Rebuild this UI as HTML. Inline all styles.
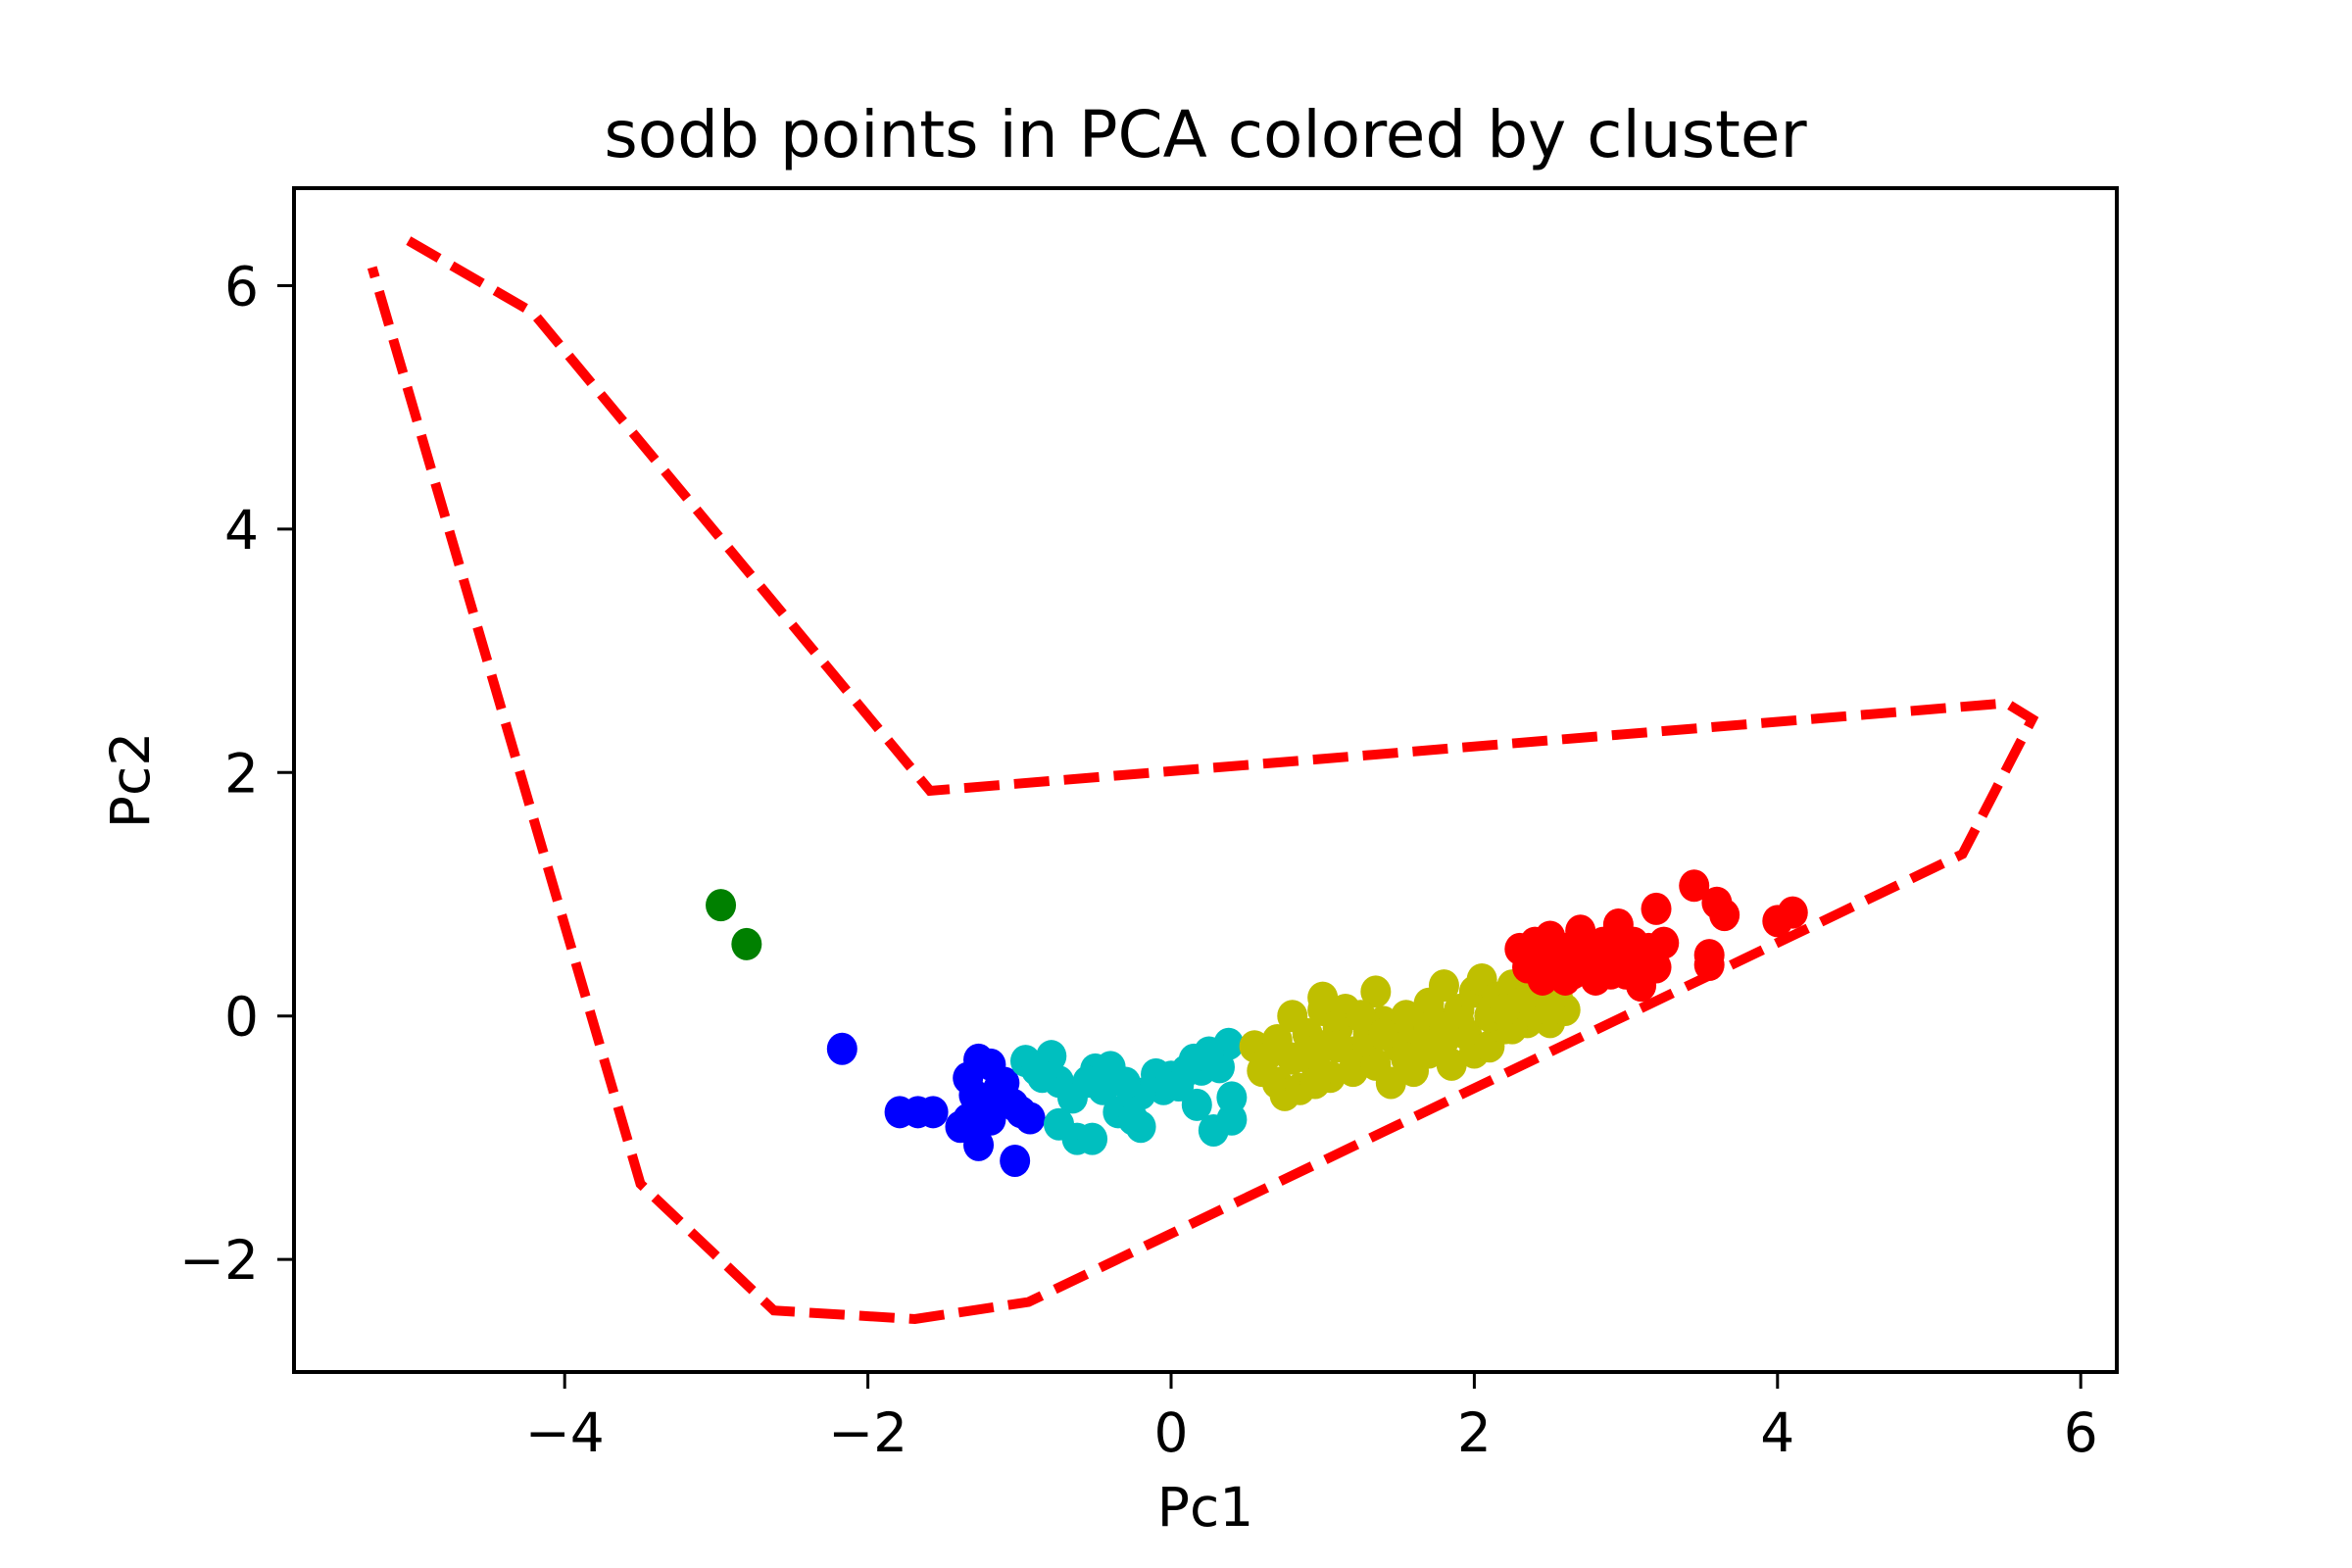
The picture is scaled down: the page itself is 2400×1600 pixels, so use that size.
<!DOCTYPE html>
<html><head><meta charset="utf-8"><style>
html,body{margin:0;padding:0;background:#fff;}
svg{display:block;font-family:"DejaVu Sans","Liberation Sans",sans-serif;}
</style></head><body>
<svg id="chart" width="2400" height="1600" viewBox="0 0 2400 1600" xmlns="http://www.w3.org/2000/svg">
<rect width="2400" height="1600" fill="#fff"/>
<text x="1230" y="160" font-size="66" text-anchor="middle">sodb points in PCA colored by cluster</text>
<text x="1230" y="1557" font-size="55" text-anchor="middle">Pc1</text>
<text transform="translate(152,796) rotate(-90)" font-size="55" text-anchor="middle">Pc2</text>
<g id="marks"></g>
<g id="axes"></g>
</svg>
<script>
const xTicks=[-4,-2,0,2,4,6];
const yTicks=[-2,0,2,4,6];
const hullX=[-5.03,-4.21,-1.59,5.51,5.68,5.22,-0.94,-1.69,-2.62,-3.50,-5.27];
const hullY=[6.37,5.78,1.85,2.57,2.44,1.33,-2.35,-2.49,-2.42,-1.38,6.15];
const greenX=[-2.97,-2.80];
const greenY=[0.91,0.59];
const blueX=[-2.17,-1.79,-1.67,-1.57,-1.34,-1.27,-1.19,-1.34,-1.29,-1.14,-1.04,-1.39,-1.27,-1.03,-0.93,-1.19,-0.99,-1.20,-1.30,-1.10];
const blueY=[-0.27,-0.79,-0.79,-0.79,-0.51,-0.36,-0.40,-0.85,-0.79,-0.60,-0.73,-0.91,-1.06,-1.19,-0.84,-0.85,-0.79,-0.70,-0.65,-0.55];
const cyanX=[-0.96,-0.79,-0.89,-0.74,-0.65,-0.74,-0.62,-0.52,-0.50,-0.40,-0.45,-0.35,-0.20,-0.25,-0.10,-0.05,0.05,0.15,0.20,0.17,0.28,0.40,0.40,0.32,0.38,0.25,-0.20,-0.55,-0.85,-0.30,0.00,0.10];
const cyanY=[-0.37,-0.33,-0.44,-0.54,-0.67,-0.89,-1.01,-1.01,-0.44,-0.42,-0.60,-0.79,-0.91,-0.85,-0.48,-0.60,-0.57,-0.36,-0.44,-0.73,-0.94,-0.85,-0.67,-0.42,-0.23,-0.30,-0.64,-0.54,-0.50,-0.55,-0.50,-0.45];
const yellowX=[0.55,0.6,0.65,0.7,0.75,0.8,0.8,0.85,0.9,0.95,1.0,1.0,1.05,1.1,1.15,1.2,1.2,1.3,1.35,1.35,1.4,1.45,1.5,1.55,1.6,1.65,1.7,1.7,1.75,1.8,1.8,1.85,1.9,1.95,2.0,2.0,2.05,2.1,2.1,2.15,2.2,2.25,2.3,2.35,2.4,2.45,2.5,2.55,2.6,1.25,1.55,0.95,2.25,0.7,0.9,1.1,1.3,1.5,1.7,1.9,2.1,2.3,2.5,1.0,1.4,1.8,2.2];
const yellowY=[-0.25,-0.45,-0.3,-0.55,-0.65,0.0,-0.35,-0.6,-0.15,-0.4,0.05,-0.25,-0.5,-0.1,0.05,-0.3,-0.45,-0.15,0.2,-0.4,-0.05,-0.55,-0.25,0.0,-0.45,-0.15,0.1,-0.3,-0.05,0.25,-0.2,-0.4,0.05,-0.15,0.2,-0.3,0.3,0.0,-0.25,0.15,-0.1,0.25,0.05,-0.05,0.2,0.1,-0.05,0.15,0.05,0.0,-0.35,-0.55,-0.1,-0.2,-0.3,-0.25,-0.2,-0.1,-0.1,-0.05,0.0,0.1,0.05,0.15,-0.15,-0.1,0.05,0.1];
const redX=[2.3,2.35,2.4,2.45,2.5,2.55,2.6,2.65,2.7,2.75,2.8,2.85,2.9,2.95,3.0,3.05,3.1,3.15,3.2,3.2,3.25,3.45,3.6,3.65,3.55,3.55,4.0,4.1,2.6,3.0,2.45,2.7,2.9,3.1];
const redY=[0.55,0.4,0.6,0.3,0.65,0.45,0.55,0.35,0.7,0.5,0.3,0.6,0.45,0.75,0.35,0.6,0.25,0.55,0.4,0.88,0.6,1.07,0.93,0.83,0.5,0.42,0.78,0.85,0.3,0.6,0.5,0.4,0.35,0.45];

const L=300,R=2160,T=192,B=1400;
const X0=1195,XU=154.7,Y0=1036.7,YU=124.2;
function sx(v){return X0+v*XU;}
function sy(v){return Y0-v*YU;}
const NS="http://www.w3.org/2000/svg";
function mk(tag,attrs,parent){const e=document.createElementNS(NS,tag);for(const k in attrs)e.setAttribute(k,attrs[k]);parent.appendChild(e);return e;}
const marks=document.getElementById('marks');
const axes=document.getElementById('axes');

function drawSeries(xs,ys,color,name){
  const g=mk('g',{},marks);
  
  
  for(let i=0;i<xs.length;i++){
    const c=mk('ellipse',{cx:sx(xs[i]),cy:sy(ys[i]),rx:15.5,ry:16.5,fill:color},g);
    
    
  }
}
drawSeries(greenX,greenY,'#008000','green');
drawSeries(blueX,blueY,'#0000ff','blue');
drawSeries(cyanX,cyanY,'#00bfbf','cyan');
drawSeries(yellowX,yellowY,'#bfbf00','yellow');
drawSeries(redX,redY,'#ff0000','red');

let pts=hullX.map((v,i)=>sx(v)+','+sy(hullY[i])).join(' ');
const hull=mk('polyline',{points:pts,fill:'none',stroke:'#ff0000','stroke-width':10,'stroke-dasharray':'36 15'},marks);



const frame=mk('rect',{x:L,y:T,width:R-L,height:B-T,fill:'none',stroke:'#000','stroke-width':4},axes);



xTicks.forEach(v=>{
  const x=sx(v);
  const t=mk('line',{x1:x,y1:B,x2:x,y2:B+17,stroke:'#000','stroke-width':3},axes);
  
  
  const lb=mk('text',{x:x,y:1481,'font-size':55,'text-anchor':'middle'},axes);
  lb.textContent=(v<0?'\u2212'+(-v):String(v));
  
  
});
yTicks.forEach(v=>{
  const y=sy(v);
  const t=mk('line',{x1:L-17,y1:y,x2:L,y2:y,stroke:'#000','stroke-width':3},axes);
  
  
  const lb=mk('text',{x:264,y:y+20,'font-size':55,'text-anchor':'end'},axes);
  lb.textContent=(v<0?'\u2212'+(-v):String(v));
  
  
});
</script>
</body></html>
